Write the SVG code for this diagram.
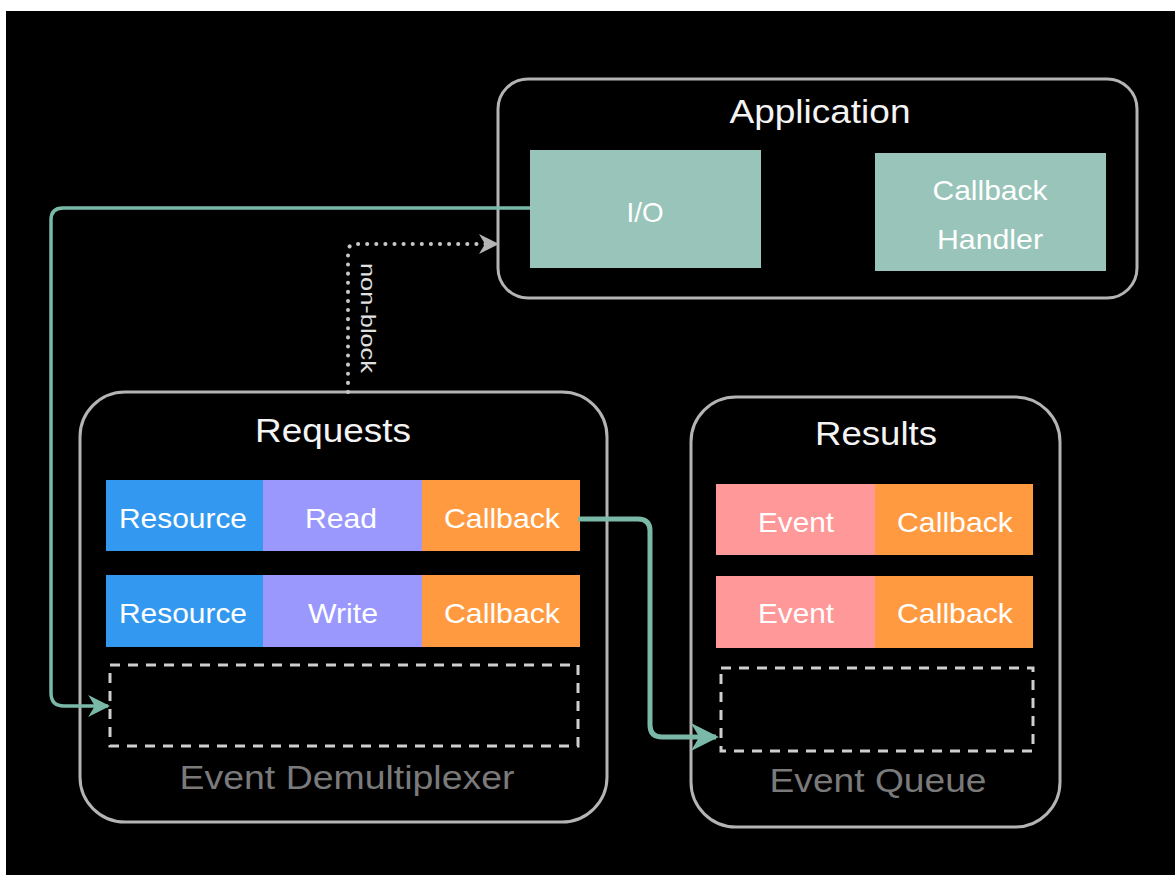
<svg xmlns="http://www.w3.org/2000/svg" width="1175" height="875" viewBox="0 0 1175 875">
<defs>
<style>
.box{fill:none;stroke:#b4b4b4;stroke-width:3}
.title{font-family:"Liberation Sans",Arial,sans-serif;font-size:33px;fill:#f4f4f4;text-anchor:middle}
.sub{font-family:"Liberation Sans",Arial,sans-serif;font-size:33px;fill:#7a7a7a;text-anchor:middle}
.lbl{font-family:"Liberation Sans",Arial,sans-serif;font-size:28px;fill:#ffffff;text-anchor:middle;dominant-baseline:central}
.teal{fill:#98c4b9}
.blue{fill:#3399f0}
.purple{fill:#9a98fd}
.orange{fill:#ff9a40}
.pink{fill:#ff9898}
.dash{fill:none;stroke:#cfcfcf;stroke-width:3;stroke-dasharray:10,8}
.conn{fill:none;stroke:#7ab8a8;stroke-linejoin:round}
</style>
<marker id="ahT" viewBox="0 0 10 10" refX="9" refY="5" markerWidth="22" markerHeight="22" markerUnits="userSpaceOnUse" orient="auto">
<path d="M0,0 L10,5 L0,10 L3,5 Z" fill="#7ab8a8"/>
</marker>
<marker id="ahT2" viewBox="0 0 10 10" refX="9" refY="5" markerWidth="28" markerHeight="28" markerUnits="userSpaceOnUse" orient="auto">
<path d="M0,0 L10,5 L0,10 L3,5 Z" fill="#7ab8a8"/>
</marker>
<marker id="ahG" viewBox="0 0 10 10" refX="9" refY="5" markerWidth="20" markerHeight="20" markerUnits="userSpaceOnUse" orient="auto">
<path d="M0,0 L10,5 L0,10 L3,5 Z" fill="#b4b4b4"/>
</marker>
</defs>
<rect x="0" y="0" width="1175" height="875" fill="#ffffff"/>
<rect x="6" y="11" width="1169" height="864" fill="#000000"/>

<g id="application">
<rect class="box" x="498" y="79" width="639" height="219" rx="30"/>
<text class="title" x="820" y="123" textLength="181" lengthAdjust="spacingAndGlyphs">Application</text>
</g>
<g id="io">
<rect class="teal" x="530" y="150" width="231" height="118"/>
<text class="lbl" x="645" y="212" textLength="37" lengthAdjust="spacingAndGlyphs">I/O</text>
</g>
<g id="callback-handler">
<rect class="teal" x="875" y="153" width="231" height="118"/>
<text class="lbl" x="990" y="190" textLength="115" lengthAdjust="spacingAndGlyphs">Callback</text>
<text class="lbl" x="990" y="239" textLength="106" lengthAdjust="spacingAndGlyphs">Handler</text>
</g>

<g id="requests">
<rect class="box" x="80" y="392" width="527" height="430" rx="45"/>
<text class="title" x="333" y="442" textLength="156" lengthAdjust="spacingAndGlyphs">Requests</text>
<text class="sub" x="347" y="789" textLength="335" lengthAdjust="spacingAndGlyphs">Event Demultiplexer</text>
</g>
<g id="req-row1">
<rect class="blue" x="106" y="480" width="158" height="71"/>
<rect class="purple" x="263" y="480" width="160" height="71"/>
<rect class="orange" x="422" y="480" width="158" height="71"/>
<text class="lbl" x="183" y="518" textLength="128" lengthAdjust="spacingAndGlyphs">Resource</text>
<text class="lbl" x="341" y="518" textLength="72" lengthAdjust="spacingAndGlyphs">Read</text>
<text class="lbl" x="502" y="518" textLength="116" lengthAdjust="spacingAndGlyphs">Callback</text>
</g>
<g id="req-row2">
<rect class="blue" x="106" y="575" width="158" height="72"/>
<rect class="purple" x="263" y="575" width="160" height="72"/>
<rect class="orange" x="422" y="575" width="158" height="72"/>
<text class="lbl" x="183" y="613" textLength="128" lengthAdjust="spacingAndGlyphs">Resource</text>
<text class="lbl" x="343" y="613" textLength="70" lengthAdjust="spacingAndGlyphs">Write</text>
<text class="lbl" x="502" y="613" textLength="116" lengthAdjust="spacingAndGlyphs">Callback</text>
</g>
<g id="req-slot">
<rect class="dash" x="110" y="665" width="468" height="81"/>
</g>

<g id="results">
<rect class="box" x="691" y="397" width="369" height="430" rx="45"/>
<text class="title" x="876" y="445" textLength="122" lengthAdjust="spacingAndGlyphs">Results</text>
<text class="sub" x="878" y="792" textLength="217" lengthAdjust="spacingAndGlyphs">Event Queue</text>
</g>
<g id="res-row1">
<rect class="pink" x="716" y="484" width="160" height="71"/>
<rect class="orange" x="875" y="484" width="158" height="71"/>
<text class="lbl" x="796" y="522" textLength="76" lengthAdjust="spacingAndGlyphs">Event</text>
<text class="lbl" x="955" y="522" textLength="116" lengthAdjust="spacingAndGlyphs">Callback</text>
</g>
<g id="res-row2">
<rect class="pink" x="716" y="576" width="160" height="72"/>
<rect class="orange" x="875" y="576" width="158" height="72"/>
<text class="lbl" x="796" y="613" textLength="76" lengthAdjust="spacingAndGlyphs">Event</text>
<text class="lbl" x="955" y="613" textLength="116" lengthAdjust="spacingAndGlyphs">Callback</text>
</g>
<g id="res-slot">
<rect class="dash" x="721" y="668" width="312" height="83"/>
</g>

<g id="connectors">
<path class="conn" stroke-width="3.5" d="M530,208 H63 Q51,208 51,220 V693 Q51,706 64,706 H108" marker-end="url(#ahT)"/>
<path class="conn" stroke-width="5" d="M578,519 H638 Q650,519 650,531 V725 Q650,737 662,737 H716" marker-end="url(#ahT2)"/>
<path fill="none" stroke="#c8c8c8" stroke-width="4" stroke-dasharray="0.1,9" stroke-linecap="round" d="M348,392 V252 Q348,244 356,244 H488"/>
<path fill="none" stroke="none" d="M480,244 H497" marker-end="url(#ahG)"/>
<text x="368" y="318" transform="rotate(90 368 318)" font-family="'Liberation Sans',Arial,sans-serif" font-size="21" fill="#e0e0e0" text-anchor="middle" dominant-baseline="central" textLength="110" lengthAdjust="spacingAndGlyphs">non-block</text>
</g>
</svg>
